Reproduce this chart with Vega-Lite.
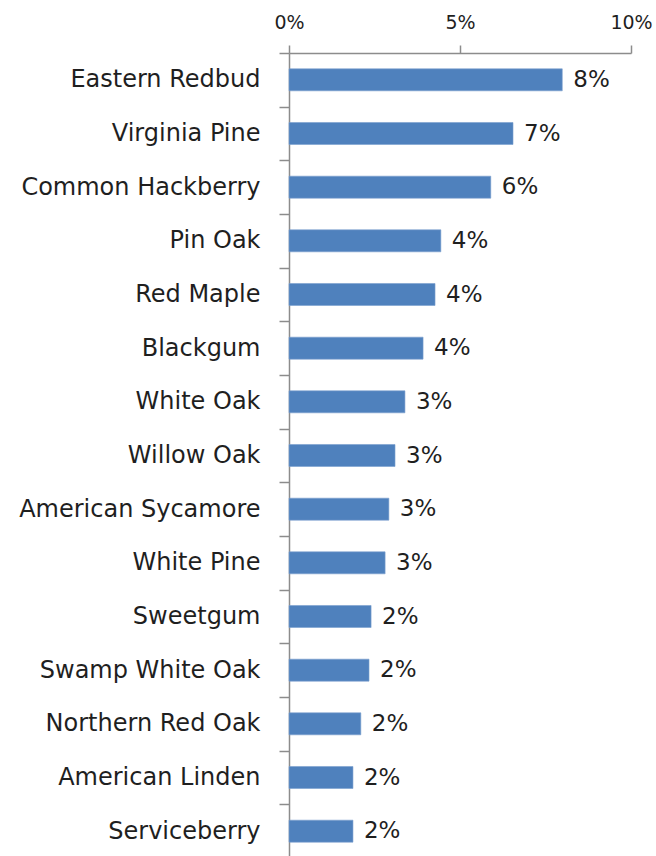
{
  "$schema": "https://vega.github.io/schema/vega-lite/v6.json",
  "autosize": {"type": "none"},
  "padding": {"left": 289, "top": 53, "right": 25, "bottom": 0},
  "width": 342,
  "height": 805,
  "background": "white",
  "config": {"view": {"stroke": null}, "font": "DejaVu Sans"},
  "data": {"values": [
    {"species": "Eastern Redbud", "share": 0.0799},
    {"species": "Virginia Pine", "share": 0.0655},
    {"species": "Common Hackberry", "share": 0.059},
    {"species": "Pin Oak", "share": 0.0444},
    {"species": "Red Maple", "share": 0.0427},
    {"species": "Blackgum", "share": 0.0392},
    {"species": "White Oak", "share": 0.0339},
    {"species": "Willow Oak", "share": 0.031},
    {"species": "American Sycamore", "share": 0.0292},
    {"species": "White Pine", "share": 0.0281},
    {"species": "Sweetgum", "share": 0.024},
    {"species": "Swamp White Oak", "share": 0.0234},
    {"species": "Northern Red Oak", "share": 0.021},
    {"species": "American Linden", "share": 0.0187},
    {"species": "Serviceberry", "share": 0.0187}
  ]},
  "encoding": {
    "y": {"field": "species", "type": "nominal", "sort": null,
      "scale": {"paddingInner": 0, "paddingOuter": 0},
      "axis": {"title": null, "tickBand": "extent", "tickSize": 10, "labelPadding": 19,
        "domainColor": "#8c8c8c", "tickColor": "#8c8c8c", "domainWidth": 1.5, "tickWidth": 1.5,
        "labelFont": "DejaVu Sans", "labelFontSize": 24, "labelColor": "#1f1f1f", "labelLimit": 300}},
    "x": {"field": "share", "type": "quantitative",
      "scale": {"domain": [0, 0.1]},
      "axis": {"orient": "top", "title": null, "grid": false, "values": [0, 0.05, 0.1], "format": ".0%",
        "labelFlush": false, "labelOverlap": false,
        "tickSize": 8, "labelPadding": 13, "domainColor": "#8c8c8c", "tickColor": "#8c8c8c", "domainWidth": 1.5, "tickWidth": 1.5,
        "labelFont": "DejaVu Sans", "labelFontSize": 19, "labelColor": "#1f1f1f"}}
  },
  "layer": [
    {"mark": {"type": "bar", "height": {"band": 0.41}, "color": "#4F81BD", "stroke": "#7aa0cf", "strokeWidth": 0.6}},
    {"mark": {"type": "text", "align": "left", "baseline": "middle", "dx": 11, "font": "DejaVu Sans", "fontSize": 23, "color": "#1f1f1f"},
      "encoding": {"text": {"field": "share", "type": "quantitative", "format": ".0%"}}}
  ]
}
